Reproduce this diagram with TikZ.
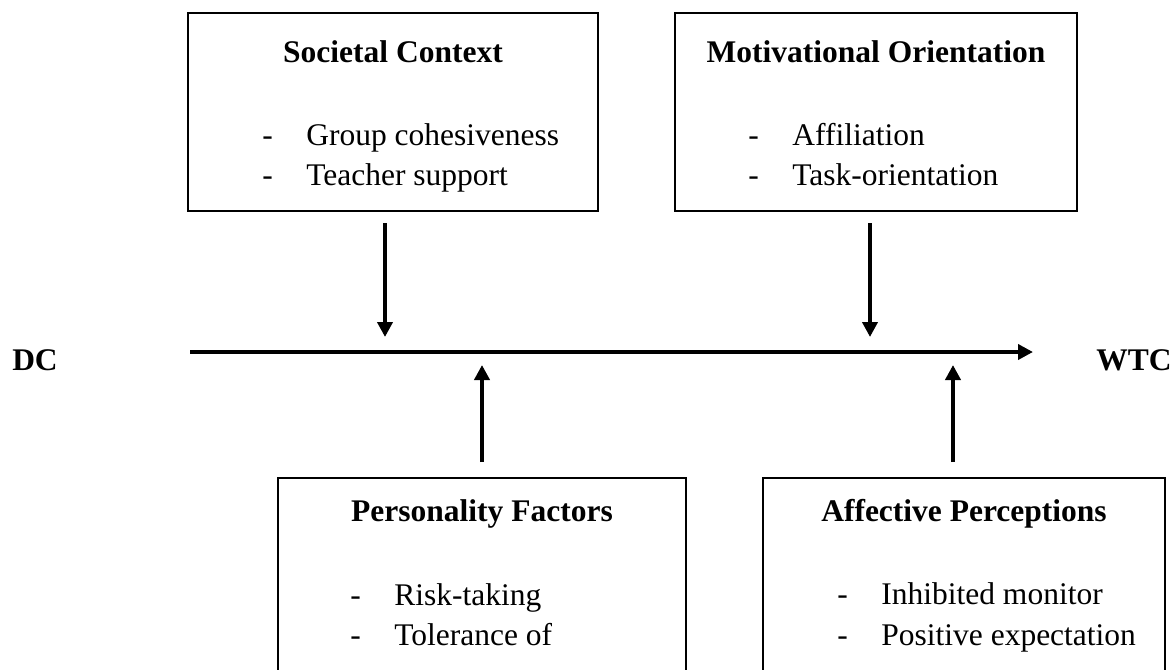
\documentclass[tikz,border=0pt]{standalone}
\usepackage{fontspec}
\setmainfont{Liberation Serif}
\usetikzlibrary{arrows.meta}
\newcommand{\bul}{\makebox[22pt][l]{-}}

\begin{document}
\begin{tikzpicture}[x=0.5pt,y=-0.5pt,>={Triangle[length=7.5pt,width=7.5pt]},
box/.style={draw,line width=1.25pt,inner sep=0pt},
head/.style={font=\bfseries\fontsize{15.75}{19}\selectfont,inner sep=0pt,anchor=base},
item/.style={font=\fontsize{15.75}{19}\selectfont,inner sep=0pt,anchor=base west},
link/.style={->,line width=2pt}]
\useasboundingbox (0,0) rectangle (1175,670);
\clip (0,0) rectangle (1175,670);
% boxes
\node[box,minimum width=205pt,minimum height=99pt] (soc) at (393,112) {};
\node[box,minimum width=201pt,minimum height=99pt] (mot) at (876,112) {};
\node[box,minimum width=204pt,minimum height=121pt] (per) at (482,599) {};
\node[box,minimum width=201pt,minimum height=121pt] (aff) at (964,599) {};
% box texts
\node[head] (soct) at (393,62) {Societal Context};
\node[item] (soc1) at (262,145) {\bul Group cohesiveness};
\node[item] (soc2) at (262,185) {\bul Teacher support};
\node[head] (mott) at (876,62) {Motivational Orientation};
\node[item] (mot1) at (748,145) {\bul Affiliation};
\node[item] (mot2) at (748,185) {\bul Task-orientation};
\node[head] (pert) at (482,521) {Personality Factors};
\node[item] (per1) at (350,605) {\bul Risk-taking};
\node[item] (per2) at (350,645) {\bul Tolerance of};
\node[head] (afft) at (964,521) {Affective Perceptions};
\node[item] (aff1) at (837,604) {\bul Inhibited monitor};
\node[item] (aff2) at (837,645) {\bul Positive expectation};
% ends
\node[head] (dc) at (35,370) {DC};
\node[head] (wtc) at (1134,370) {WTC};
% main line and side arrows
\coordinate (start) at (190,352);
\coordinate (stop) at (1033,352);
\coordinate (socout) at (385,223);
\coordinate (socin) at (385,337);
\coordinate (motout) at (870,223);
\coordinate (motin) at (870,337);
\coordinate (perout) at (482,462);
\coordinate (perin) at (482,365);
\coordinate (affout) at (953,462);
\coordinate (affin) at (953,365);
\draw[link] (start)--(stop);
\draw[link] (socout)--(socin);\draw[link] (motout)--(motin);
\draw[link] (perout)--(perin);\draw[link] (affout)--(affin);
\end{tikzpicture}
\end{document}
